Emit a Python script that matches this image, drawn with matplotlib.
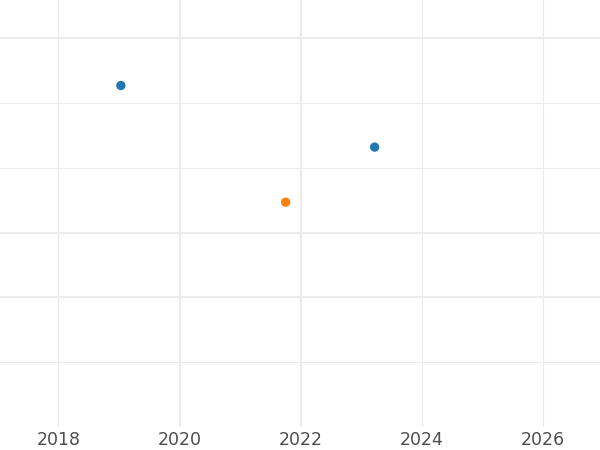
import matplotlib.pyplot as plt

# values (y axis has no labels, arbitrary units)
years = [2019.03, 2023.22, 2021.75]
values = [5.27, 4.32, 3.47]
colors = ['#1f77b4', '#1f77b4', '#ff7f0e']

x_ticks = [2018, 2020, 2022, 2024, 2026]
x_thick = [2020, 2022]
y_lines = [1, 2, 3, 4, 5, 6]
y_thick = [2, 3, 6]

fig = plt.figure(figsize=(6, 4.5), dpi=100)
ax = fig.add_axes([0, 1 - 427 / 450, 1, 427 / 450])

for x in x_ticks:
    lw = 1.5 if x in x_thick else 0.8
    ax.axvline(x, color='#ebebeb', lw=lw, zorder=0)
for y in y_lines:
    lw = 1.5 if y in y_thick else 0.8
    ax.axhline(y, color='#ebebeb', lw=lw, zorder=0)

ax.scatter(years, values, c=colors, s=45, zorder=3, edgecolors='none')

ax.set_xlim(2017.035, 2026.94)
ax.set_ylim(0, 6.59)
ax.set_xticks(x_ticks)
ax.set_xticklabels([str(x) for x in x_ticks])
ax.set_yticks([])
ax.tick_params(axis='x', length=0, pad=3, labelsize=12.5, labelcolor='#4d4d4d')
for s in ax.spines.values():
    s.set_visible(False)

fig.savefig('out.png')
